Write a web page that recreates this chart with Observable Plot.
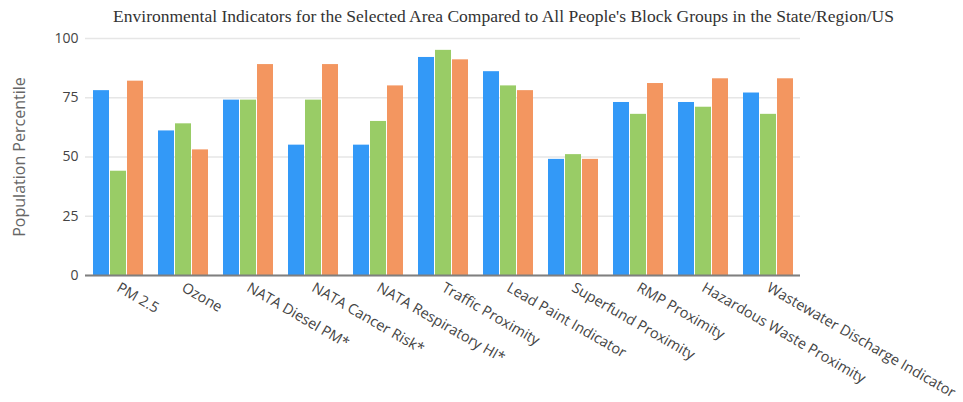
<!DOCTYPE html>
<html><head><meta charset="utf-8">
<script src="https://cdn.jsdelivr.net/npm/d3@7"></script>
<script src="https://cdn.jsdelivr.net/npm/@observablehq/plot@0.6"></script>
<style>
body{margin:0;background:#fff;}
#wrap{position:relative;width:963px;height:402px;}
#title{position:absolute;top:6px;left:0;width:963px;padding-left:44px;box-sizing:border-box;text-align:center;font-family:"Liberation Serif","Times New Roman",serif;font-size:17.5px;color:#333;white-space:nowrap;}
</style></head><body>
<div id="wrap"><div id="title">Environmental Indicators for the Selected Area Compared to All People's Block Groups in the State/Region/US</div><div id="chart"></div></div>
<script>
const categories = ["PM 2.5","Ozone","NATA Diesel PM*","NATA Cancer Risk*","NATA Respiratory HI*","Traffic Proximity","Lead Paint Indicator","Superfund Proximity","RMP Proximity","Hazardous Waste Proximity","Wastewater Discharge Indicator"];
const seriesNames = ["State","Region","US"];
const seriesColors = ["#3399f7","#99cc66","#f39660"];
const stateValues  = [78,61,74,55,55,92,86,49,73,73,77];
const regionValues = [44,64,74,74,65,95,80,51,68,71,68];
const usValues     = [82,53,89,89,80,91,78,49,81,83,83];
const yTicks = [0,25,50,75,100];

const valueLists = [stateValues, regionValues, usValues];
const data = categories.flatMap((c, i) => seriesNames.map((s, j) => ({category: c, series: s, value: valueLists[j][i]})));

const chart = Plot.plot({
  width: 963, height: 402,
  marginLeft: 84, marginRight: 163, marginTop: 38, marginBottom: 127,
  fx: {domain: categories, padding: 0, label: null, axis: null},
  x: {domain: seriesNames, paddingInner: 0.06, paddingOuter: 0.36, axis: null},
  y: {domain: [0, 100], axis: null},
  color: {domain: seriesNames, range: seriesColors},
  style: {fontFamily: "'Open Sans', sans-serif", background: "#fff"},
  marks: [
    Plot.gridY(yTicks, {stroke: "#e6e6e6", strokeOpacity: 1, strokeWidth: 1.5}),
    Plot.barY(data, {fx: "category", x: "series", y: "value", fill: "series"}),
    Plot.ruleY([0], {stroke: "#7f7f7f", strokeWidth: 2}),
    Plot.axisY(yTicks, {tickSize: 0, tickPadding: 7, fontSize: 14, fill: "#444", label: null}),
    Plot.axisY({ticks: [], tickSize: 0, label: "Population Percentile", labelAnchor: "center", labelArrow: "none", labelOffset: 72, fontSize: 16, fill: "#666"}),
    Plot.axisFx({anchor: "bottom", tickRotate: 30, tickSize: 0, tickPadding: 11, textAnchor: "start", fontSize: 14.5, fill: "#444", label: null})
  ]
});
document.getElementById("chart").appendChild(chart);
</script>
</body></html>
